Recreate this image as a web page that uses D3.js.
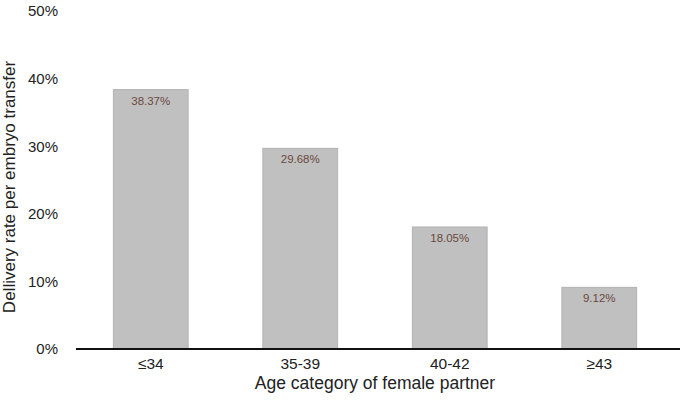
<!DOCTYPE html>
<html>
<head>
<meta charset="utf-8">
<script src="https://cdn.jsdelivr.net/npm/d3@7"></script>
<style>
    body { margin: 0; background: #fff; }
    text { font-family: "Liberation Sans", Arial, sans-serif; }
</style>
</head>
<body>
<div class="chart"></div>
<script>
var categories = ["≤34", "35-39", "40-42", "≥43"];
var rates = [38.37, 29.68, 18.05, 9.12];
var yTicks = [0, 10, 20, 30, 40, 50];

var width = 680;
var height = 410;
var margin = { top: 11, right: 6, bottom: 61, left: 76 };

var svg = d3.select(".chart")
            .append("svg")
            .attr("width", width)
            .attr("height", height);

var x = d3.scaleBand()
          .domain(categories)
          .range([margin.left, width - margin.right])
          .paddingInner(0.5)
          .paddingOuter(0.25);

var y = d3.scaleLinear()
          .domain([0, 50])
          .range([height - margin.bottom, margin.top]);

// y tick labels only, no axis line
var yAxis = svg.append("g")
               .attr("transform", "translate(" + margin.left + ",0)")
               .call(d3.axisLeft(y).tickValues(yTicks).tickSize(0).tickPadding(18)
                        .tickFormat(function(d) { return d + "%"; }));
yAxis.select(".domain").remove();
yAxis.selectAll("text")
     .attr("font-size", 15)
     .attr("fill", "#222")
     .style("font-family", "Liberation Sans, Arial, sans-serif");

svg.selectAll("rect.bar")
   .data(rates)
   .enter().append("rect")
   .attr("class", "bar")
   .attr("x", function(d, i) { return x(categories[i]); })
   .attr("y", function(d) { return y(d); })
   .attr("width", x.bandwidth())
   .attr("height", function(d) { return y(0) - y(d); })
   .attr("fill", "#c0c0c0")
   .attr("stroke", "#b2b2b2")
   .attr("stroke-width", 1);

svg.selectAll("text.value")
   .data(rates)
   .enter().append("text")
   .attr("class", "value")
   .attr("x", function(d, i) { return x(categories[i]) + x.bandwidth() / 2; })
   .attr("y", function(d) { return y(d) + 15; })
   .attr("text-anchor", "middle")
   .attr("font-size", 11.5)
   .attr("fill", "#6b4a3e")
   .text(function(d) { return d.toFixed(2) + "%"; });

// x axis: labels under the bars, baseline runs to the right edge
var xAxis = svg.append("g")
               .attr("transform", "translate(0," + y(0) + ")")
               .call(d3.axisBottom(x).tickSize(0).tickPadding(9).tickSizeOuter(0));
xAxis.select(".domain").remove();
xAxis.selectAll("text")
     .attr("font-size", 15.5)
     .attr("fill", "#222")
     .style("font-family", "Liberation Sans, Arial, sans-serif");

svg.append("line")
   .attr("x1", margin.left)
   .attr("x2", width)
   .attr("y1", y(0))
   .attr("y2", y(0))
   .attr("stroke", "#111")
   .attr("stroke-width", 2);

svg.append("text")
   .attr("x", (margin.left + width - margin.right) / 2)
   .attr("y", 389)
   .attr("text-anchor", "middle")
   .attr("font-size", 17.5)
   .attr("fill", "#222")
   .text("Age category of female partner");

svg.append("text")
   .attr("transform", "translate(15,187) rotate(-90)")
   .attr("text-anchor", "middle")
   .attr("font-size", 17)
   .attr("fill", "#222")
   .text("Dellivery rate per embryo transfer");
</script>
</body>
</html>
